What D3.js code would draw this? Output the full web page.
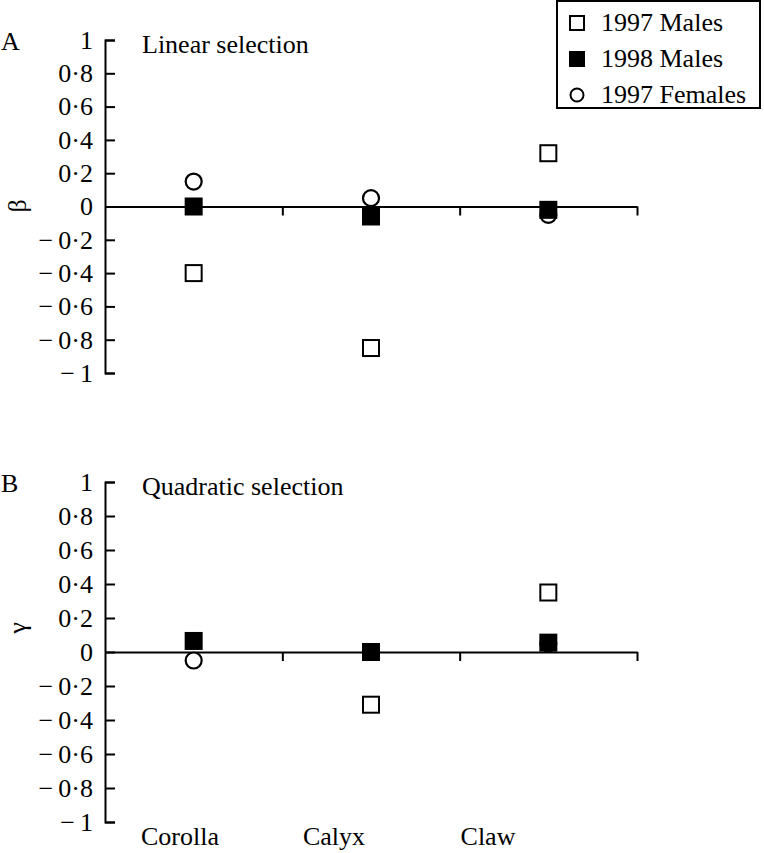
<!DOCTYPE html>
<html lang="en">
  <head>
    <meta charset="UTF-8">
    <script type="text/javascript" src="https://cdn.jsdelivr.net/npm/d3@7"></script>
    <title>Selection gradients</title>
    <style>
      body { margin: 0; background: #fff; }
    </style>
  </head>
  <body>
    <script type="text/javascript">
      let w = 764;
      let h = 853;
      let serif = '"Liberation Serif", "Times New Roman", Times, serif';

      // Data
      let traits = ['Corolla', 'Calyx', 'Claw'];
      let groups = ['1997 Males', '1998 Males', '1997 Females'];
      let yTicks = [-1, -0.8, -0.6, -0.4, -0.2, 0, 0.2, 0.4, 0.6, 0.8, 1];

      // Linear selection (beta)
      let betaMales97   = [-0.40, -0.85,  0.32];
      let betaMales98   = [ 0.00, -0.06, -0.02];
      let betaFemales97 = [ 0.15,  0.05, -0.05];

      // Quadratic selection (gamma); corolla open square not visible
      let gammaMales97   = [null, -0.31,  0.35];
      let gammaMales98   = [0.065, 0.00,  0.055];
      let gammaFemales97 = [-0.05, 0.00,  0.05];

      let svg = d3.select('body')
                  .append('svg')
                  .attr('width', w)
                  .attr('height', h);

      let xScale = d3.scaleBand()
                     .domain(traits)
                     .range([105, 637]);
      let xEdge = d3.scaleLinear()
                    .domain([0, traits.length])
                    .range([105, 637]);
      let cx = d => xScale(d) + xScale.bandwidth() / 2;

      // 0·8 style decimals, long minus with a thin gap
      let fmt = d => d3.format('~g')(d).replace('.', '\u00b7').replace('\u2212', '\u2212\u2009');

      function label(sel) {
        return sel.style('font-family', serif).style('font-size', '26px').attr('fill', '#000');
      }

      function panel(y, letter, title, sym, symY, m97, m98, f97) {
        // y axis, ticks pointing inward
        let yAxis = svg.append('g')
           .attr('transform', 'translate(105,0)')
           .call(d3.axisLeft(y)
                   .tickValues(yTicks)
                   .tickSizeInner(-10)
                   .tickSizeOuter(-10)
                   .tickPadding(12)
                   .tickFormat(fmt));
        yAxis.selectAll('path, line').attr('stroke', '#000').attr('stroke-width', 2);
        label(yAxis.selectAll('text'));

        // zero line with category separators
        let zAxis = svg.append('g')
           .attr('transform', `translate(0,${y(0)})`)
           .call(d3.axisBottom(xEdge)
                   .tickValues([1, 2, 3])
                   .tickSize(9)
                   .tickSizeOuter(0)
                   .tickFormat(''));
        zAxis.selectAll('path, line').attr('stroke', '#000').attr('stroke-width', 2);

        label(svg.append('text').attr('x', 1).attr('y', y(1) + 10).text(letter));
        label(svg.append('text').attr('x', 142).attr('y', y(1) + 13).text(title));
        label(svg.append('text')
           .attr('transform', `translate(26,${symY}) rotate(-90)`)
           .attr('text-anchor', 'middle')
           .text(sym));

        let pts = (vals) => traits.map((t, i) => ({t: t, v: vals[i]})).filter(d => d.v !== null);

        // circles first, squares drawn over them
        svg.append('g').selectAll('circle')
           .data(pts(f97)).enter().append('circle')
           .attr('cx', d => cx(d.t)).attr('cy', d => y(d.v)).attr('r', 8)
           .attr('fill', '#fff').attr('stroke', '#000').attr('stroke-width', 2.2);

        svg.append('g').selectAll('rect')
           .data(pts(m98)).enter().append('rect')
           .attr('x', d => cx(d.t) - 9).attr('y', d => y(d.v) - 9)
           .attr('width', 18).attr('height', 18).attr('fill', '#000');

        svg.append('g').selectAll('rect')
           .data(pts(m97)).enter().append('rect')
           .attr('x', d => cx(d.t) - 8).attr('y', d => y(d.v) - 8)
           .attr('width', 16).attr('height', 16)
           .attr('fill', '#fff').attr('stroke', '#000').attr('stroke-width', 2);
      }

      let yA = d3.scaleLinear().domain([-1, 1]).range([373, 40]);
      let yB = d3.scaleLinear().domain([-1, 1]).range([822, 482]);

      panel(yA, 'A', 'Linear selection', '\u03b2', 206, betaMales97, betaMales98, betaFemales97);
      panel(yB, 'B', 'Quadratic selection', '\u03b3', 628, gammaMales97, gammaMales98, gammaFemales97);

      // category labels along the bottom
      let labelX = d3.scalePoint().domain(traits).range([180, 488]);
      label(svg.selectAll('text.cat')
         .data(traits).enter().append('text')
         .attr('class', 'cat')
         .attr('x', d => labelX(d)).attr('y', 845)
         .attr('text-anchor', 'middle')
         .text(d => d));

      // Legend
      let legend = svg.append('g');
      legend.append('rect')
            .attr('x', 557).attr('y', 1).attr('width', 203).attr('height', 107)
            .attr('fill', '#fff').attr('stroke', '#000').attr('stroke-width', 2);
      let rowY = d3.scalePoint().domain(groups).range([23, 95]);
      groups.forEach((g, i) => {
        let yy = rowY(g);
        if (i === 0) {
          legend.append('rect').attr('x', 570).attr('y', yy - 7).attr('width', 14).attr('height', 14)
                .attr('fill', '#fff').attr('stroke', '#000').attr('stroke-width', 2);
        } else if (i === 1) {
          legend.append('rect').attr('x', 569).attr('y', yy - 8).attr('width', 16).attr('height', 16)
                .attr('fill', '#000');
        } else {
          legend.append('circle').attr('cx', 577).attr('cy', yy).attr('r', 6.5)
                .attr('fill', '#fff').attr('stroke', '#000').attr('stroke-width', 2);
        }
        label(legend.append('text').attr('x', 601).attr('y', yy + 8).text(g));
      });
    </script>
  </body>
</html>
